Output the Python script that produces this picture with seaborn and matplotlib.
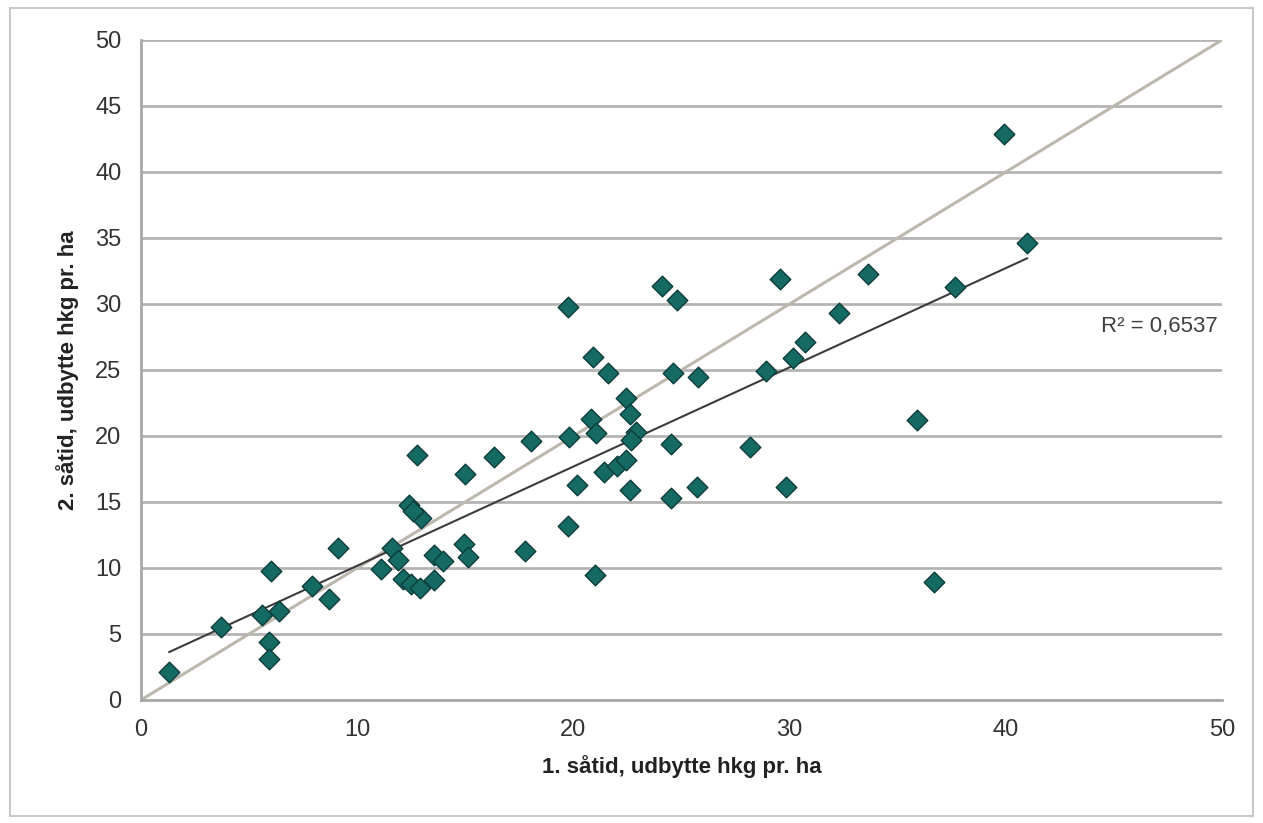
#!/usr/bin/env python3
"""
Udbytte 1. vs 2. såtid: scatter with trendline and 1:1 line.
"""

import numpy as np
import matplotlib
matplotlib.use("Agg")
import matplotlib.pyplot as plt
import pandas as pd
import seaborn as sns

# Yield, hkg pr. ha
SAATID_1 = [1.3, 3.7, 5.6, 6.4, 6.0, 5.9, 5.9, 7.9, 8.7, 9.1,
            11.1, 11.6, 11.9, 12.1, 12.5, 12.9, 12.4, 12.95, 12.6, 12.75,
            13.55, 13.95, 13.55, 14.95, 15.15, 15.0, 16.35, 17.75, 18.05, 19.75,
            19.8, 19.75, 20.15, 21.0, 20.8, 21.05, 20.9, 21.6, 21.4, 22.0,
            22.45, 22.45, 22.6, 22.9, 22.65, 22.6, 24.1, 24.8, 24.6, 25.75,
            24.5, 24.5, 25.7, 28.15, 28.9, 29.55, 29.85, 30.15, 30.7, 32.3,
            33.65, 35.9, 36.7, 37.65, 39.9, 41.0]
SAATID_2 = [2.1, 5.5, 6.4, 6.75, 9.75, 4.4, 3.1, 8.6, 7.65, 11.55,
            9.9, 11.5, 10.6, 9.2, 8.8, 8.5, 14.75, 13.8, 14.3, 18.55,
            11.0, 10.5, 9.1, 11.85, 10.85, 17.15, 18.4, 11.3, 19.65, 13.15,
            19.9, 29.75, 16.25, 9.45, 21.3, 20.2, 26.0, 24.8, 17.3, 17.7,
            18.2, 22.85, 21.7, 20.3, 19.7, 15.9, 31.4, 30.3, 24.8, 24.45,
            19.4, 15.3, 16.1, 19.2, 24.95, 31.9, 16.1, 25.9, 27.1, 29.3,
            32.3, 21.2, 8.9, 31.3, 42.9, 34.6]
REF_LINE = [0, 50]
R2_LABEL = "R² = 0,6537"

X_LABEL = "1. såtid, udbytte hkg pr. ha"
Y_LABEL = "2. såtid, udbytte hkg pr. ha"


def main():
    df = pd.DataFrame({"x": SAATID_1, "y": SAATID_2})

    sns.set_style("white")
    plt.rcParams["font.family"] = ["Liberation Sans", "DejaVu Sans"]

    fig = plt.figure(figsize=(12.63, 8.23), dpi=100)
    ax = fig.add_axes([0.1116, 0.1495, 0.8559, 0.8019])

    # outer chart frame
    fig.patches.append(plt.Rectangle((0.008, 0.008), 0.984, 0.982, transform=fig.transFigure,
                                     fill=False, edgecolor="#c8c8c8", linewidth=1.5, zorder=0))

    ax.set_xlim(0, 50)
    ax.set_ylim(0, 50)
    ax.set_xticks(range(0, 51, 10))
    ax.set_yticks(range(0, 51, 5))
    ax.yaxis.grid(True, color="#b4b4b4", linewidth=2)
    ax.xaxis.grid(False)
    ax.set_axisbelow(True)

    # 1:1 line
    sns.lineplot(x=REF_LINE, y=REF_LINE, ax=ax, color="#bdb8ad", linewidth=2.2, zorder=2)

    # linear trend line (Excel style, over data range)
    sns.regplot(data=df, x="x", y="y", ax=ax, scatter=False, ci=None, truncate=True,
                line_kws={"color": "#3c3c3c", "linewidth": 1.5, "zorder": 3})

    sns.scatterplot(data=df, x="x", y="y", ax=ax, marker="D", s=110,
                    color="#166a64", edgecolor="#0c3c3a", linewidth=1.0, zorder=4)

    ax.text(49.8, 28.3, R2_LABEL, ha="right", va="center", fontsize=16, color="#404040")

    for side in ["top", "right"]:
        ax.spines[side].set_visible(False)
    for side in ["left", "bottom"]:
        ax.spines[side].set_color("#a8a8a8")
        ax.spines[side].set_linewidth(2)

    ax.tick_params(axis="both", direction="out", length=6, width=1.5, color="#a8a8a8",
                   labelsize=17, labelcolor="#333333")
    ax.tick_params(axis="y", pad=8)
    ax.tick_params(axis="x", pad=8)

    ax.set_xlabel(X_LABEL, fontsize=16, fontweight="bold", color="#222222", labelpad=10)
    ax.set_ylabel(Y_LABEL, fontsize=16, fontweight="bold", color="#222222", labelpad=12)

    fig.savefig("out.png", dpi=100)
    plt.close(fig)


if __name__ == "__main__":
    main()
